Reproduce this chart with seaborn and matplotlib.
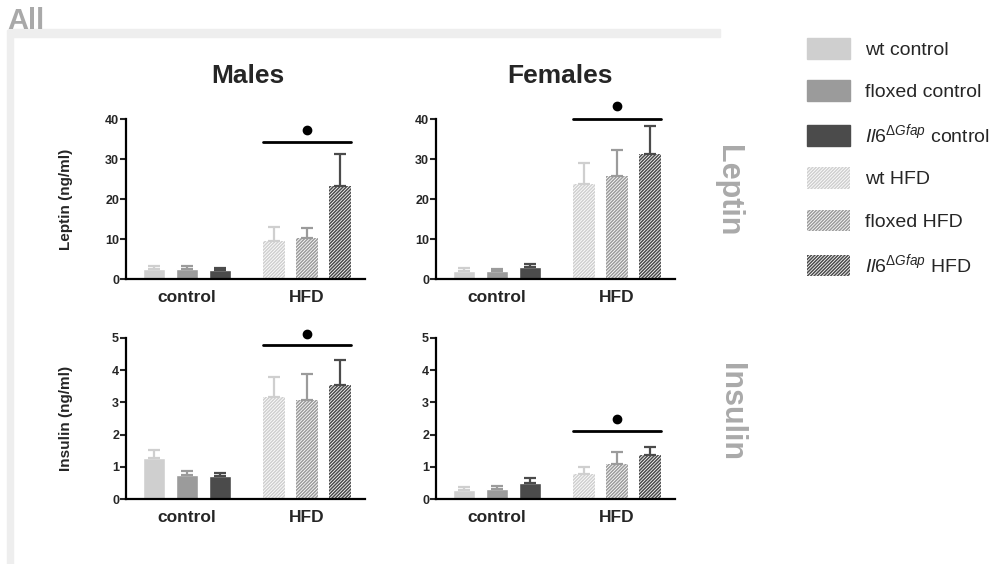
import numpy as np
import pandas as pd
import seaborn as sns
import matplotlib.pyplot as plt
from matplotlib.patches import Patch, Rectangle

sns.set_style("white")
plt.rcParams['font.family'] = ['Liberation Sans', 'DejaVu Sans']
plt.rcParams['mathtext.fontset'] = 'custom'
plt.rcParams['mathtext.rm'] = 'Liberation Sans'
plt.rcParams['mathtext.it'] = 'Liberation Sans:italic'
plt.rcParams['hatch.linewidth'] = 1.1

# categories
diets = ['control', 'HFD']
genotypes = ['wt', 'floxed', 'Il6']
colors = ['#cfcfcf', '#9b9b9b', '#4b4b4b']

# means (wt, floxed, Il6) and upper SEM
males_leptin_control = [2.5, 2.5, 2.2]
males_leptin_hfd = [9.4, 10.2, 23.3]
males_leptin_sem_control = [0.7, 0.7, 0.5]
males_leptin_sem_hfd = [3.5, 2.5, 8.0]

females_leptin_control = [2.1, 1.9, 3.0]
females_leptin_hfd = [23.8, 25.7, 31.3]
females_leptin_sem_control = [0.7, 0.5, 0.75]
females_leptin_sem_hfd = [5.2, 6.6, 7.0]

males_insulin_control = [1.27, 0.74, 0.70]
males_insulin_hfd = [3.16, 3.09, 3.53]
males_insulin_sem_control = [0.24, 0.14, 0.10]
males_insulin_sem_hfd = [0.63, 0.79, 0.80]

females_insulin_control = [0.27, 0.32, 0.49]
females_insulin_hfd = [0.78, 1.09, 1.36]
females_insulin_sem_control = [0.09, 0.09, 0.17]
females_insulin_sem_hfd = [0.21, 0.37, 0.25]

# significance bar heights (ML, FL, MI, FI)
sig_line_y = [34.3, 40.1, 4.78, 2.1]
sig_dot_y = [37.3, 43.2, 5.13, 2.48]

HATCH = '//////////'

fig = plt.figure(figsize=(9.91, 5.64), dpi=100)
W, H = 991, 564


def px_axes(x0, y_top, x1, y_bot):
    return fig.add_axes([x0 / W, 1 - y_bot / H, (x1 - x0) / W, (y_bot - y_top) / H])


# light frame
fig.add_artist(Rectangle((8 / W, 1 - 37 / H), 712 / W, 8 / H,
                         transform=fig.transFigure, color='#eeeeee', zorder=0))
fig.add_artist(Rectangle((7 / W, 0), 6 / W, 1 - 30 / H,
                         transform=fig.transFigure, color='#eeeeee', zorder=0))
fig.text(7 / W, 1 - 29 / H, 'All', fontsize=21, weight='bold', color='#a9a9a9', va='baseline')

panels = [
    (px_axes(126, 119, 365, 279), males_leptin_control, males_leptin_hfd,
     males_leptin_sem_control, males_leptin_sem_hfd, 'Leptin (ng/ml)', 40, 10),
    (px_axes(436, 119, 675, 279), females_leptin_control, females_leptin_hfd,
     females_leptin_sem_control, females_leptin_sem_hfd, '', 40, 10),
    (px_axes(126, 338, 365, 499), males_insulin_control, males_insulin_hfd,
     males_insulin_sem_control, males_insulin_sem_hfd, 'Insulin (ng/ml)', 5, 1),
    (px_axes(436, 338, 675, 499), females_insulin_control, females_insulin_hfd,
     females_insulin_sem_control, females_insulin_sem_hfd, '', 5, 1),
]

for k, (ax, m_c, m_h, s_c, s_h, ylab, ymax, step) in enumerate(panels):
    df = pd.DataFrame({
        'diet': ['control'] * 3 + ['HFD'] * 3,
        'genotype': genotypes * 2,
        'value': m_c + m_h,
        'sem': s_c + s_h,
    })
    sns.barplot(data=df, x='diet', y='value', hue='genotype', order=diets,
                hue_order=genotypes, palette=colors, saturation=1,
                width=0.82, gap=0.33, errorbar=None, legend=False, ax=ax)

    hfd_bars = []
    bar_containers = list(ax.containers)
    for i, cont in enumerate(bar_containers):
        for j, bar in enumerate(cont):
            c = colors[i]
            sem = df[(df.genotype == genotypes[i]) & (df.diet == diets[j])]['sem'].iloc[0]
            if diets[j] == 'HFD':
                bar.set_facecolor('white')
                bar.set_edgecolor(c)
                bar.set_hatch(HATCH)
                bar.set_linewidth(0)
                hfd_bars.append(bar)
            xc = bar.get_x() + bar.get_width() / 2
            ax.errorbar(xc, bar.get_height(), yerr=[[0], [sem]], fmt='none',
                        ecolor=c, elinewidth=1.6, capsize=4.3, capthick=1.6, zorder=1)

    # significance line + dot over HFD group
    x0 = min(b.get_x() for b in hfd_bars)
    x1 = max(b.get_x() + b.get_width() for b in hfd_bars)
    ax.plot([x0, x1], [sig_line_y[k]] * 2, color='black', lw=2, clip_on=False)
    ax.plot([(x0 + x1) / 2], [sig_dot_y[k]], 'o', color='black', ms=6, clip_on=False)

    ax.set_xlim(-0.508, 1.483)
    ax.set_ylim(0, ymax)
    ax.set_yticks(np.arange(0, ymax + step / 2, step))
    ax.set_xlabel('')
    ax.set_ylabel(ylab, fontsize=11, weight='bold')
    ax.yaxis.set_label_coords(-0.222, 0.5)
    sns.despine(ax=ax)
    for sp in ['left', 'bottom']:
        ax.spines[sp].set_linewidth(1.6)
        ax.spines[sp].set_color('black')
    ax.tick_params(axis='y', direction='out', length=4, width=1.5, labelsize=9, pad=1, left=True)
    ax.tick_params(axis='x', length=0, labelsize=12.5, pad=8)
    plt.setp(ax.get_yticklabels(), fontweight='bold')
    plt.setp(ax.get_xticklabels(), fontweight='bold')
    ax.set_facecolor('none')

fig.text(248 / W, 1 - 83 / H, 'Males', ha='center', va='baseline', fontsize=19, weight='bold')
fig.text(560 / W, 1 - 83 / H, 'Females', ha='center', va='baseline', fontsize=19, weight='bold')
fig.text(728 / W, 1 - 191 / H, 'Leptin', rotation=-90, ha='center', va='center',
         fontsize=22, weight='bold', color='#aaaaaa')
fig.text(731 / W, 1 - 412 / H, 'Insulin', rotation=-90, ha='center', va='center',
         fontsize=22, weight='bold', color='#aaaaaa')

gene = r'$\mathit{Il6}^{\mathit{\Delta Gfap}}$'
labels = ['wt control', 'floxed control', gene + ' control',
          'wt HFD', 'floxed HFD', gene + ' HFD']
handles = [Patch(facecolor=c, edgecolor=c) for c in colors] + \
          [Patch(facecolor='white', edgecolor=c, hatch=HATCH, lw=0) for c in colors]
fig.legend(handles, labels, loc='upper left', bbox_to_anchor=(807 / W, 1 - 38 / H),
           frameon=False, fontsize=14, handlelength=2.2, handleheight=1.3,
           labelspacing=1.08, handletextpad=0.8, borderpad=0, borderaxespad=0)

fig.savefig('out.png', dpi=100)
